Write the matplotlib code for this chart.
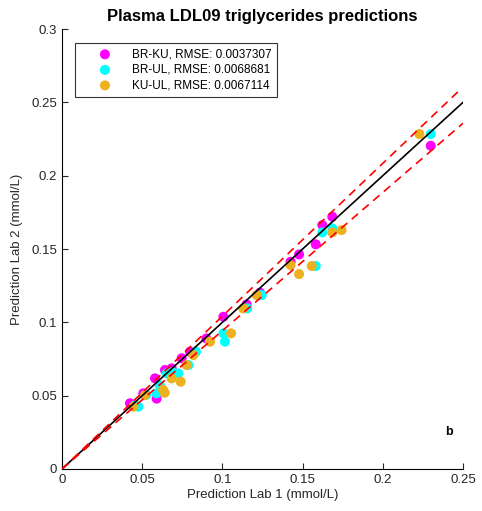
import matplotlib
matplotlib.use('Agg')
import matplotlib.pyplot as plt
import numpy as np

plt.rcParams['font.family'] = ['Liberation Sans', 'DejaVu Sans']

# BR-KU
brku_x = [0.0424, 0.0507, 0.058, 0.059, 0.0642, 0.0684, 0.0746, 0.0798, 0.090,
          0.1006, 0.1151, 0.1234, 0.1425, 0.1478, 0.1582, 0.1623, 0.1685, 0.2299]
brku_y = [0.0448, 0.0516, 0.0618, 0.048, 0.0675, 0.0686, 0.0755, 0.080, 0.089,
          0.1038, 0.1122, 0.1202, 0.1413, 0.1463, 0.1532, 0.1663, 0.1720, 0.2204]
# BR-UL
brul_x = [0.0455, 0.0476, 0.0525, 0.059, 0.061, 0.0653, 0.069, 0.0725, 0.0788,
          0.0835, 0.1006, 0.1016, 0.1155, 0.1245, 0.1582, 0.1623, 0.1685, 0.2299]
brul_y = [0.0435, 0.0425, 0.0505, 0.0516, 0.057, 0.0652, 0.066, 0.0652, 0.0709,
          0.080, 0.0925, 0.0868, 0.1095, 0.1186, 0.1384, 0.1613, 0.164, 0.2284]
# KU-UL
kuul_x = [0.0445, 0.0517, 0.063, 0.064, 0.0684, 0.074, 0.0777, 0.0819, 0.0923,
          0.1054, 0.113, 0.1214, 0.1425, 0.1478, 0.1557, 0.1685, 0.1743, 0.2228]
kuul_y = [0.0425, 0.0504, 0.054, 0.052, 0.0618, 0.0595, 0.0709, 0.0777, 0.0868,
          0.0925, 0.1095, 0.1186, 0.139, 0.1329, 0.1384, 0.1613, 0.1629, 0.2284]

labels = ['BR-KU, RMSE: 0.0037307', 'BR-UL, RMSE: 0.0068681', 'KU-UL, RMSE: 0.0067114']
colors = ['#ff00ff', '#00ffff', '#edb120']

fig = plt.figure(figsize=(4.82, 5.11), dpi=100)
ax = fig.add_axes([0.1286, 0.0822, 0.832, 0.861])

ax.scatter(brku_x, brku_y, s=52, c=colors[0], edgecolors='none', label=labels[0], zorder=2)
ax.scatter(brul_x, brul_y, s=52, c=colors[1], edgecolors='none', label=labels[1], zorder=2)
ax.scatter(kuul_x, kuul_y, s=52, c=colors[2], edgecolors='none', label=labels[2], zorder=2)

# identity and tolerance lines
ax.plot([0, 0.25], [0, 0.25], color='k', lw=1.2, zorder=3)
ax.plot([0, 0.249], [0, 0.249 * 1.042], color='#ff0000', lw=1.2, dashes=(5, 3.5), zorder=3)
ax.plot([0, 0.25], [0, 0.25 * 0.943], color='#ff0000', lw=1.2, dashes=(5, 3.5), zorder=3)

ax.set_xlim(0, 0.25)
ax.set_ylim(0, 0.3)
ax.set_xticks([0, 0.05, 0.1, 0.15, 0.2, 0.25])
ax.set_xticklabels(['0', '0.05', '0.1', '0.15', '0.2', '0.25'])
ax.set_yticks([0, 0.05, 0.1, 0.15, 0.2, 0.25, 0.3])
ax.set_yticklabels(['0', '0.05', '0.1', '0.15', '0.2', '0.25', '0.3'])
ax.spines['top'].set_visible(False)
ax.spines['right'].set_visible(False)
ax.tick_params(direction='in', length=4, labelsize=9.5, colors='#262626')
ax.set_xlabel('Prediction Lab 1 (mmol/L)', fontsize=9.5, color='#262626', labelpad=2)
ax.set_ylabel('Prediction Lab 2 (mmol/L)', fontsize=9.5, color='#262626', labelpad=6)
ax.set_title('Plasma LDL09 triglycerides predictions', fontsize=12, fontweight='bold', pad=6)

leg = ax.legend(loc='upper left', bbox_to_anchor=(0.032, 0.968), fontsize=8.5,
                frameon=True, fancybox=False, edgecolor='k', borderaxespad=0,
                handletextpad=0.2, borderpad=0.45, labelspacing=0.3, handlelength=4.2)
leg.get_frame().set_linewidth(0.8)

ax.text(0.2413, 0.0252, 'b', fontsize=9, fontweight='bold', ha='center', va='center')

fig.savefig('out.png', dpi=100)
